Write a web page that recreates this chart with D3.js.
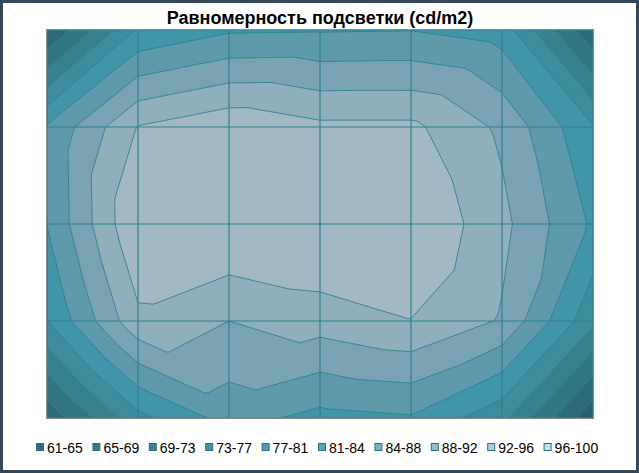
<!DOCTYPE html>
<html><head><meta charset="utf-8">
<script src="https://cdn.jsdelivr.net/npm/d3@7"></script>
<style>body{margin:0;background:#fff} svg{display:block}</style>
</head><body>
<svg id="chart" width="639" height="473"></svg>
<script>
const title = "Равномерность подсветки (cd/m2)";
// measured values, rows top to bottom, columns left to right
const row0 = [64.7, 81.0, 83.9, 84.1, 84.3, 82.6, 65.7];
const row1 = [84.8, 96.3, 99.1, 97.0, 97.0, 91.4, 80.8];
const row2 = [84.5, 100.0, 100.4, 101.0, 100.0, 93.3, 83.7];
const row3 = [80.4, 95.2, 92.2, 94.0, 96.0, 91.8, 77.6];
const row4 = [66.1, 79.3, 86.0, 83.2, 84.0, 77.8, 62.0];
const thresholds = [61, 64.9, 68.8, 72.7, 76.6, 80.5, 84.4, 88.3, 92.2, 96.1];
const bandLabels = ["61-65","65-69","69-73","73-77","77-81","81-84","84-88","88-92","92-96","96-100"];
const fillColors = ["#2a5e6b","#2e6a77","#327683","#37818f","#3c8c9e","#4195a8","#5e9aab","#79a3b2","#8eafbb","#a2b8c2"];
const legendColors = ["#2f6b77","#347a87","#3a8696","#4092a5","#47a0b5","#4aaac2","#72b4c8","#8dc0d0","#aacfdc","#c5dfe8"];

const grid = [row0, row1, row2, row3, row4];
const svg = d3.select("#chart");
const W = 639, H = 473;
const plot = {x0: 47, x1: 593, y0: 30, y1: 418};
const nC = grid[0].length - 1, nR = grid.length - 1;
const x = d3.scaleLinear().domain([0, nC]).range([plot.x0, plot.x1]);
const y = d3.scaleLinear().domain([0, nR]).range([plot.y0, plot.y1]);

// piecewise-linear (triangulated) interpolation of the grid, sampled finely
const S = 30;
const nx = nC * S + 1, ny = nR * S + 1;
const values = new Float64Array(nx * ny);
for (let j = 0; j < ny; j++) {
  const gy = j / S; const cy = Math.min(Math.floor(gy), nR - 1); const fy = gy - cy;
  for (let i = 0; i < nx; i++) {
    const gx = i / S; const cx = Math.min(Math.floor(gx), nC - 1); const fx = gx - cx;
    const a = grid[cy][cx], b = grid[cy][cx + 1], c = grid[cy + 1][cx], d = grid[cy + 1][cx + 1];
    let v;
    if (a + d >= b + c) {
      v = fx >= fy ? a + fx * (b - a) + fy * (d - b) : a + fy * (c - a) + fx * (d - c);
    } else {
      v = (fx + fy <= 1) ? a + fx * (b - a) + fy * (c - a) : d + (1 - fx) * (c - d) + (1 - fy) * (b - d);
    }
    values[j * nx + i] = v;
  }
}
const contours = d3.contours().size([nx, ny]).thresholds(thresholds)(values);
const proj = d3.geoTransform({point(px, py) { this.stream.point(x((px - 0.5) / S), y((py - 0.5) / S)); }});
const path = d3.geoPath(proj);

svg.append("rect").attr("x", 0).attr("y", 0).attr("width", W).attr("height", H).attr("fill", "#fff");

svg.append("defs").append("clipPath").attr("id", "pc")
  .append("rect").attr("x", plot.x0).attr("y", plot.y0)
  .attr("width", plot.x1 - plot.x0).attr("height", plot.y1 - plot.y0);

const gp = svg.append("g").attr("clip-path", "url(#pc)");
gp.selectAll("path.band").data(contours).join("path")
  .attr("class", "band")
  .attr("d", path)
  .attr("fill", (d, k) => fillColors[k])
  .attr("stroke", "#2e8091")
  .attr("stroke-width", 0.9)
  .attr("stroke-linejoin", "round");

// grid lines
gp.selectAll("line.vx").data(d3.range(nC + 1)).join("line")
  .attr("x1", d => x(d)).attr("x2", d => x(d))
  .attr("y1", plot.y0).attr("y2", plot.y1)
  .attr("stroke", "#2e8092").attr("stroke-width", 1.2);
gp.selectAll("line.hy").data(d3.range(nR + 1)).join("line")
  .attr("y1", d => y(d)).attr("y2", d => y(d))
  .attr("x1", plot.x0).attr("x2", plot.x1)
  .attr("stroke", "#2e8092").attr("stroke-width", 1.2);

svg.append("rect").attr("x", plot.x0 - 0.5).attr("y", plot.y0 - 0.5)
  .attr("width", plot.x1 - plot.x0 + 1).attr("height", plot.y1 - plot.y0 + 1)
  .attr("fill", "none").attr("stroke", "#8c8c8c").attr("stroke-width", 1);

// title
svg.append("text").attr("x", 320).attr("y", 24).attr("text-anchor", "middle")
  .attr("font-family", "Liberation Sans, Arial, sans-serif").attr("font-weight", "bold")
  .attr("font-size", 18).attr("fill", "#000").text(title);

// legend
const lg = svg.append("g");
const items = lg.selectAll("g").data(bandLabels).join("g")
  .attr("transform", (d, i) => `translate(${36 + i * 56.4},0)`);
items.append("rect").attr("x", 0.5).attr("y", 443.5).attr("width", 7).attr("height", 7)
  .attr("fill", (d, i) => legendColors[i]).attr("stroke", "#2d6f7e").attr("stroke-width", 1);
items.append("text").attr("x", 11).attr("y", 452.5)
  .attr("font-family", "Liberation Sans, Arial, sans-serif").attr("font-size", 14)
  .attr("fill", "#000").text(d => d);

// outer frame
svg.append("rect").attr("x", 1.5).attr("y", 1.5).attr("width", W - 3).attr("height", H - 3)
  .attr("fill", "none").attr("stroke", "#34485a").attr("stroke-width", 3);
</script>
</body></html>
